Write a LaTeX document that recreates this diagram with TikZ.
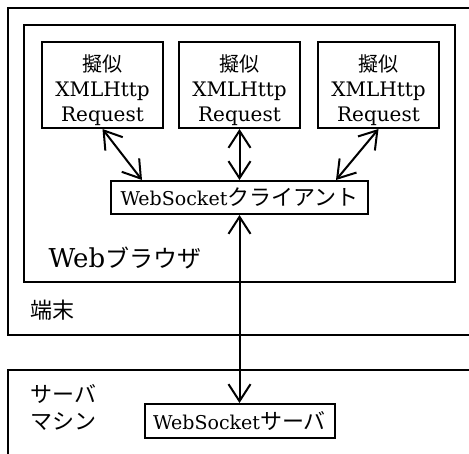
\documentclass[tikz,border=0pt]{standalone}
\usepackage{fontspec}
\usetikzlibrary{arrows.meta}
\setmainfont{DejaVu Serif}
\newfontfamily\jp{Noto Sans CJK JP}

\begin{document}
\begin{tikzpicture}[x=1pt,y=-1pt,
					every node/.style={font=\fontsize{20}{25}\selectfont},
					box/.style={draw,line width=2pt,align=center,inner sep=0pt},
					frame/.style={draw,line width=2pt},
					link/.style={line width=2pt,
						{Straight Barb[length=17pt,width=22pt]}-{Straight Barb[length=17pt,width=22pt]}}]
					\useasboundingbox (0,0) rectangle (469,454);
					\clip (0,0) rectangle (469,454);
					% frames
					\draw[frame] (8,8) rectangle (485,335);
					\draw[frame] (24,25) rectangle (455,282);
					\draw[frame] (8,370) rectangle (485,480);
					\node[anchor=base west,font=\fontsize{26}{30}\selectfont] (browser) at (45,268) {Web{\jp\fontsize{24}{30}\selectfont ブラウザ}};
					\node[anchor=west,font=\fontsize{22}{26}\selectfont\jp] (terminal) at (27,310) {端末};
					\node[anchor=north west,align=left,font=\fontsize{22}{27}\selectfont\jp] (machine) at (27,381) {サーバ\\マシン};
					% boxes
					\node[box,minimum width=121,minimum height=86] (xhrA) at (102.5,85) {\rule{0pt}{27pt}{\jp\fontsize{20}{25}\selectfont 擬似}\\XMLHttp\\Request};
					\node[box,minimum width=121,minimum height=86] (xhrB) at (239.5,85) {\rule{0pt}{27pt}{\jp\fontsize{20}{25}\selectfont 擬似}\\XMLHttp\\Request};
					\node[box,minimum width=121,minimum height=86] (xhrC) at (378.5,85) {\rule{0pt}{27pt}{\jp\fontsize{20}{25}\selectfont 擬似}\\XMLHttp\\Request};
					\node[box,minimum width=257,minimum height=33,font=\fontsize{19}{25}\selectfont] (client) at (239.5,197.5) {WebSocket{\jp\fontsize{22}{25}\selectfont クライアント}};
					\node[box,minimum width=190,minimum height=34,font=\fontsize{19}{25}\selectfont] (server) at (239.5,421) {WebSocket{\jp\fontsize{22}{25}\selectfont サーバ}};
					% links
					\draw[link] (xhrA.south) -- ([xshift=32]client.north west);
					\draw[link] (xhrB.south) -- (client.north);
					\draw[link] (xhrC.south) -- ([xshift=-33]client.north east);
					\draw[link] (client.south) -- (server.north);
\end{tikzpicture}
\end{document}
